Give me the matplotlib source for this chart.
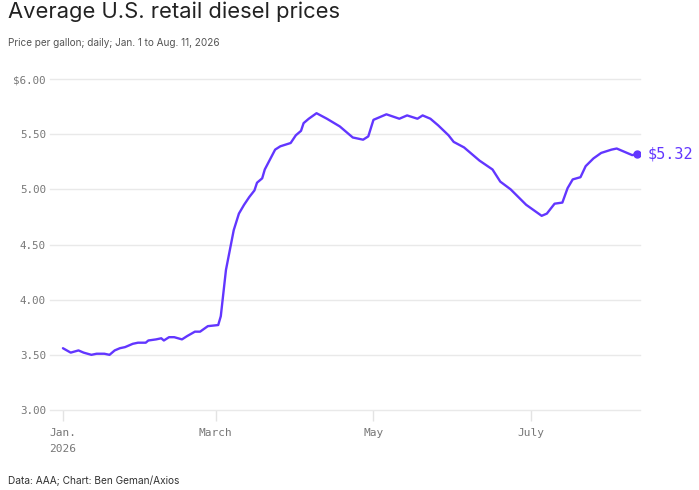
import numpy as np
import matplotlib
matplotlib.use("Agg")
import matplotlib.pyplot as plt

# days since Jan. 1, 2026 and price per gallon
days = [0, 3, 6, 8, 11, 13, 16, 18, 20, 22,
        24, 27, 29, 32, 33, 36, 38, 39, 41, 43,
        46, 48, 51, 53, 56, 60, 61, 62, 63, 65,
        66, 68, 70, 72, 74, 75, 77, 78, 80, 82,
        84, 88, 90, 92, 93, 95, 98, 102, 107, 112,
        116, 118, 120, 122, 125, 130, 133, 137, 139, 142,
        145, 149, 151, 155, 158, 161, 166, 169, 173, 176,
        179, 182, 185, 187, 190, 193, 195, 197, 200, 202,
        205, 208, 212, 214, 218, 220, 222]
prices = [3.56, 3.52, 3.54, 3.52, 3.50, 3.51, 3.51, 3.50, 3.54, 3.56,
          3.57, 3.60, 3.61, 3.61, 3.63, 3.64, 3.65, 3.63, 3.66, 3.66,
          3.64, 3.67, 3.71, 3.71, 3.76, 3.77, 3.85, 4.06, 4.27, 4.51,
          4.63, 4.78, 4.86, 4.93, 4.99, 5.06, 5.10, 5.18, 5.27, 5.36,
          5.39, 5.42, 5.49, 5.53, 5.60, 5.64, 5.69, 5.64, 5.57, 5.47,
          5.45, 5.48, 5.63, 5.65, 5.68, 5.64, 5.67, 5.64, 5.67, 5.64,
          5.58, 5.49, 5.43, 5.38, 5.32, 5.26, 5.18, 5.07, 5.00, 4.93,
          4.86, 4.81, 4.76, 4.78, 4.87, 4.88, 5.01, 5.09, 5.11, 5.21,
          5.28, 5.33, 5.36, 5.37, 5.33, 5.31, 5.32]

y_ticks = [3.0, 3.5, 4.0, 4.5, 5.0, 5.5, 6.0]
y_labels = ["3.00", "3.50", "4.00", "4.50", "5.00", "5.50", "$6.00"]
x_ticks = ["2026-01-01", "2026-03-01", "2026-05-01", "2026-07-01"]
x_labels = ["Jan.\n2026", "March", "May", "July"]

purple = "#6236ff"
mono = "DejaVu Sans Mono"

dates = np.datetime64("2026-01-01") + np.array(days)

fig = plt.figure(figsize=(6.99, 4.90), dpi=100)
ax = fig.add_axes([50 / 699, 80 / 490, 590 / 699, 333.2 / 490])

ax.plot(dates, prices, color=purple, lw=1.7, solid_capstyle="round",
        solid_joinstyle="round", zorder=3)
ax.plot(dates[-1], prices[-1], "o", color=purple, ms=5, zorder=4)
ax.annotate("$%.2f" % prices[-1], (dates[-1], prices[-1]),
            xytext=(7, 0), textcoords="offset points", va="center",
            ha="left", color=purple, fontsize=11, family=mono,
            annotation_clip=False)

ax.set_ylim(3.0, 6.02)
ax.set_xlim(np.datetime64("2025-12-27"), np.datetime64("2026-08-12"))

ax.set_yticks(y_ticks)
ax.set_yticklabels(y_labels)
ax.set_xticks([np.datetime64(d) for d in x_ticks])
ax.set_xticklabels(x_labels)

ax.grid(axis="y", color="#e9e9e9", lw=1)
for gl in ax.get_ygridlines():
    gl.set_clip_on(False)
ax.set_axisbelow(True)

for s in ax.spines.values():
    s.set_visible(False)

ax.tick_params(axis="y", length=0, pad=3, labelsize=7.8, labelcolor="#777777")
ax.tick_params(axis="x", length=8, width=1, color="#e3e3e3", pad=5,
               labelsize=8, labelcolor="#777777")
for lab in ax.get_xticklabels() + ax.get_yticklabels():
    lab.set_family(mono)
for lab in ax.get_xticklabels():
    lab.set_linespacing(1.7)

fig.text(8 / 699, 1 - 17.5 / 490, "Average U.S. retail diesel prices",
         fontsize=15.8, family="Inter", color="#222222", va="baseline")
fig.text(8 / 699, 1 - 46.5 / 490,
         "Price per gallon; daily; Jan. 1 to Aug. 11, 2026",
         fontsize=7.2, family="Inter", color="#555555", va="baseline")
fig.text(8 / 699, 1 - 484 / 490, "Data: AAA; Chart: Ben Geman/Axios",
         fontsize=7.3, family="Inter", color="#333333", va="baseline")

fig.savefig("out.png", dpi=100)
